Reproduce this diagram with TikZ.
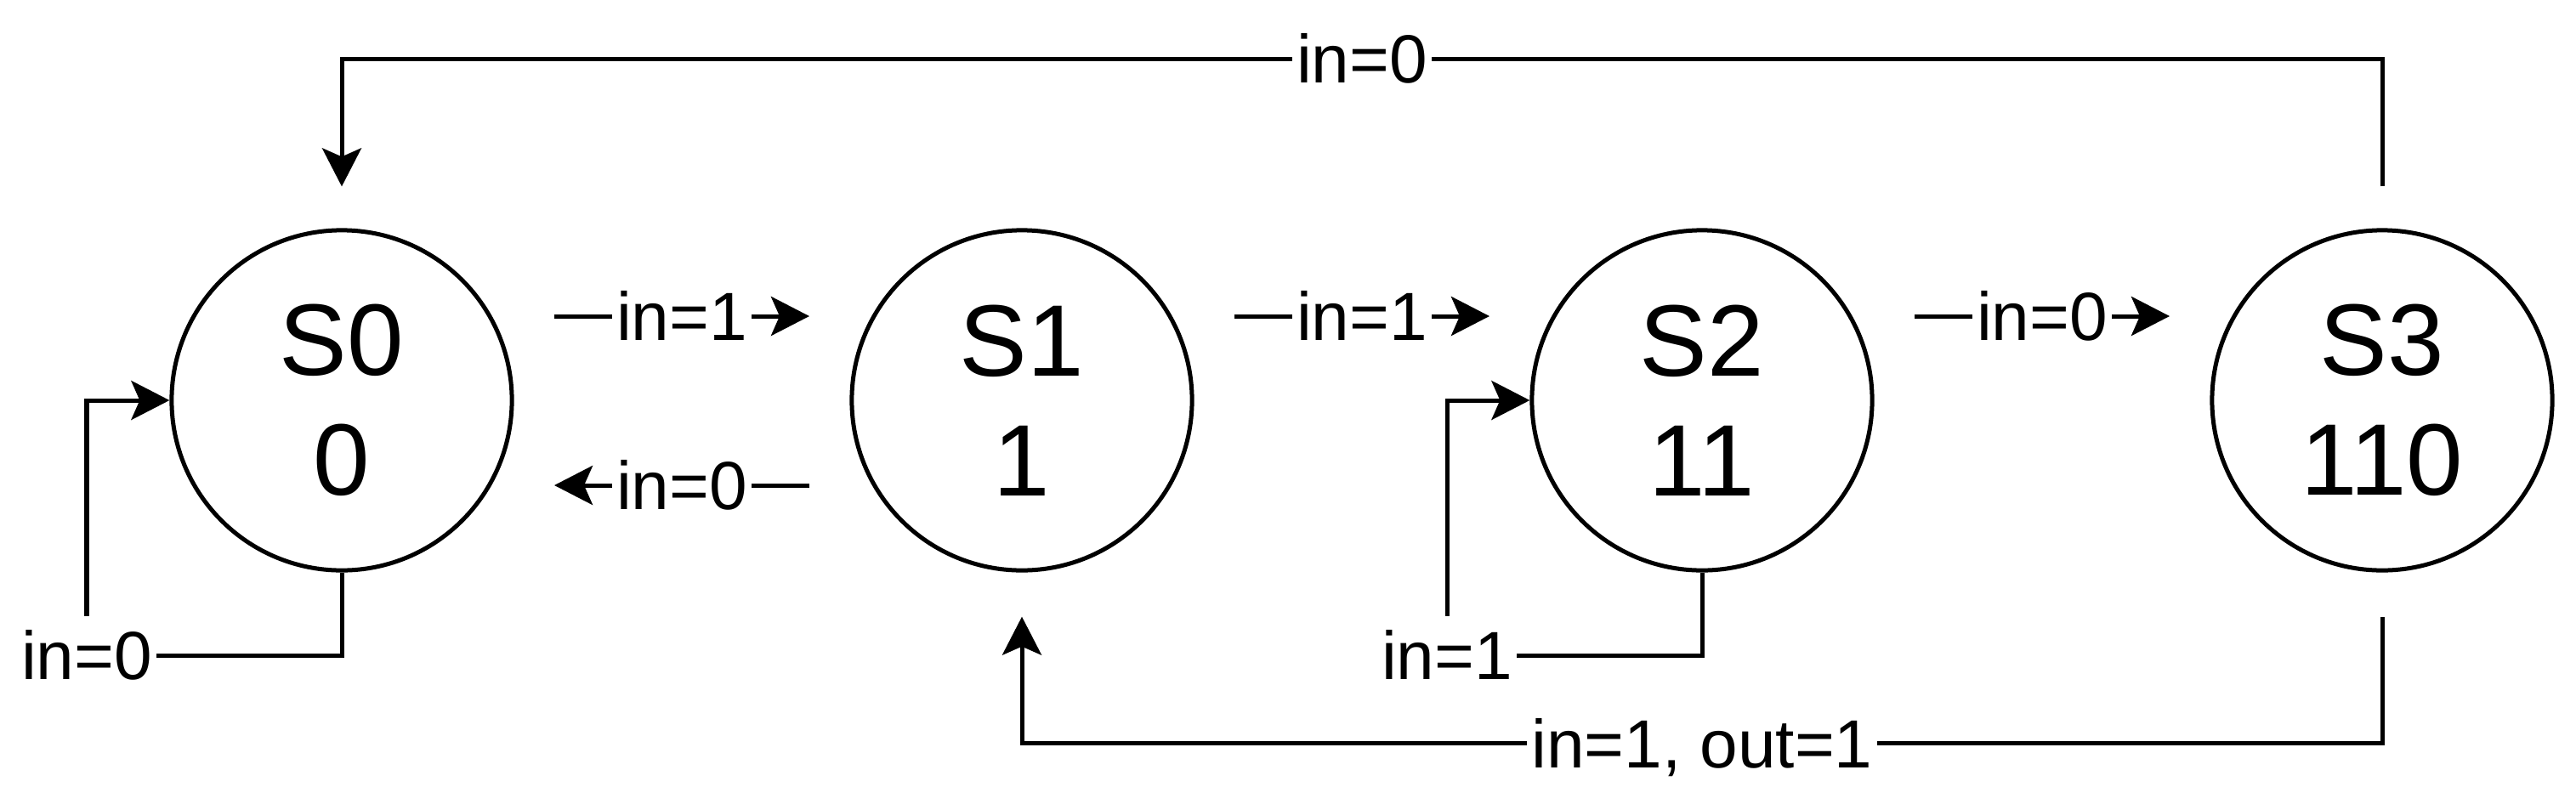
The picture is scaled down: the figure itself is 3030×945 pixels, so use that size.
\documentclass[tikz,border=0pt]{standalone}
\usepackage{fontspec}
\setmainfont{Liberation Sans}
\usetikzlibrary{arrows.meta,calc}

\begin{document}
\begin{tikzpicture}[x=0.01cm, y=-0.01cm, line width=0.05cm,
    >={Stealth[length=0.45cm, width=0.46cm, inset=0.1cm]},
    state/.style={draw, circle, minimum size=4cm, inner sep=0pt, align=center,
      font=\fontsize{34}{40}\selectfont},
    lbl/.style={fill=white, inner xsep=0.05cm, inner ysep=0.17cm,
      text height=0.57cm, text depth=0cm, font=\fontsize{22.8}{26}\selectfont}]
  \useasboundingbox (0,0) rectangle (3030,945);

  \node[state] (s0) at (402,471) {S0\\0};
  \node[state] (s1) at (1202,471) {S1\\1};
  \node[state] (s2) at (2002,471) {S2\\11};
  \node[state] (s3) at (2802,471) {S3\\110};

  % forward arrows
  \foreach \a/\b/\t in {s0/s1/in=1, s1/s2/in=1, s2/s3/in=0} {
    \coordinate (\a-f) at ($(\a.center)+(250,-99)$);
    \coordinate (\b-t) at ($(\b.center)+(-250,-99)$);
    \draw[->] (\a-f) -- node[lbl] {\t} (\b-t);
  }

  % back to S0
  \coordinate (s1-b) at ($(s1.center)+(-250,100)$);
  \coordinate (s0-b) at ($(s0.center)+(250,100)$);
  \draw[->] (s1-b) -- node[lbl] {in=0} (s0-b);

  % self loops
  \coordinate (l0) at ($(s0.center)+(-300,300)$);
  \coordinate (l2) at ($(s2.center)+(-300,300)$);
  \draw[->] (s0.south) |- (l0) node[lbl] {in=0} |- (s0.west);
  \draw[->] (s2.south) |- (l2) node[lbl] {in=1} |- (s2.west);

  % S3 to S0 and S1
  \coordinate (t3) at ($(s3.north)+(0,-49)$);
  \coordinate (t0) at ($(s0.north)+(0,-49)$);
  \draw[->] (t3) -- ++(0,-150) -| node[lbl, pos=0.25] {in=0} (t0);

  \coordinate (b3) at ($(s3.south)+(0,52)$);
  \coordinate (b1) at ($(s1.south)+(0,52)$);
  \draw[->] (b3) -- ++(0,149) -| node[lbl, pos=0.25] {in=1, out=1} (b1);
\end{tikzpicture}
\end{document}
